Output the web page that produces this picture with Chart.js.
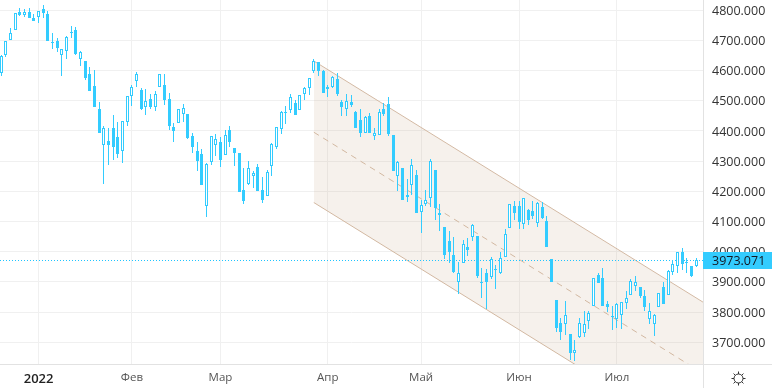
<!DOCTYPE html>
<html>
<head>
<meta charset="utf-8">
<script src="https://cdn.jsdelivr.net/npm/chart.js@4"></script>
<style>
  html, body { margin: 0; padding: 0; background: #fff; overflow: hidden; }
  canvas { display: block; }
</style>
</head>
<body>
<canvas id="priceChart" width="772" height="388"></canvas>
<script>
const opens = [4593,4651,4703,4733,4793,4785,4793,4775,4777,4804,4788,4694,4697,4653,4666,4728,4734,4637,4632,4589,
  4549,4473,4355,4367,4410,4380,4335,4431,4517,4564,4536,4481,4506,4478,4545,4553,4505,4412,4428,4455,
  4456,4384,4334,4324,4153,4296,4352,4363,4322,4403,4344,4327,4205,4223,4252,4281,4205,4186,4285,4346,
  4405,4463,4468,4492,4468,4522,4542,4600,4627,4599,4538,4547,4572,4496,4474,4496,4463,4437,4392,4450,
  4385,4388,4472,4489,4387,4252,4278,4188,4222,4253,4130,4159,4179,4271,4129,4082,4036,3989,3901,3964,
  4014,4050,4052,3900,3930,3917,3943,3928,3984,4077,4152,4152,4093,4138,4135,4095,4148,4102,3975,3840,
  3764,3762,3728,3666,3717,3732,3772,3821,3923,3913,3827,3787,3778,3792,3831,3858,3888,3883,3854,3777,
  3762,3818,3883,3858,3933,3954,3998,3965,3953,3952];
const closes = [4649,4697,4724,4790,4785,4793,4776,4765,4797,4792,4699,4692,4675,4670,4713,4726,4656,4661,4576,4531,
  4481,4395,4409,4355,4348,4325,4432,4515,4545,4588,4474,4498,4480,4522,4589,4503,4418,4400,4472,4475,
  4378,4348,4302,4221,4290,4382,4374,4305,4386,4362,4328,4199,4169,4276,4260,4202,4173,4263,4356,4412,
  4462,4461,4512,4454,4518,4542,4575,4632,4600,4527,4545,4580,4523,4481,4498,4487,4410,4395,4445,4392,
  4392,4462,4457,4391,4269,4296,4173,4182,4286,4129,4154,4173,4300,4146,4122,3990,4000,3934,3930,4025,
  4007,4088,3920,3897,3900,3976,3941,3979,4059,4158,4129,4099,4178,4105,4119,4162,4112,4016,3901,3747,
  3735,3789,3665,3674,3763,3760,3796,3912,3897,3820,3817,3785,3827,3833,3846,3903,3900,3854,3817,3804,
  3791,3863,3827,3936,3960,3998,3960,3963,3920,3972];
const highs = [4652,4699,4740,4790,4807,4803,4807,4788,4798,4818,4798,4725,4707,4671,4715,4748,4744,4665,4632,4612,
  4602,4496,4416,4410,4452,4430,4432,4516,4553,4596,4542,4539,4523,4533,4589,4589,4525,4426,4472,4490,
  4456,4392,4363,4341,4293,4385,4390,4379,4403,4417,4345,4327,4278,4301,4268,4291,4249,4271,4359,4412,
  4466,4483,4523,4503,4518,4546,4575,4638,4627,4602,4553,4582,4591,4503,4523,4519,4465,4473,4451,4459,
  4410,4472,4492,4513,4387,4300,4278,4241,4307,4271,4172,4203,4307,4271,4158,4082,4069,4048,3966,4039,
  4046,4092,4052,3946,3943,3983,3956,4000,4076,4158,4168,4168,4178,4142,4168,4165,4165,4119,3976,3840,
  3781,3837,3728,3708,3781,3804,3804,3912,3930,3946,3837,3820,3830,3833,3870,3910,3920,3883,3873,3830,
  3794,3863,3900,3940,3973,3998,4013,3978,3953,3979];
const lows = [4582,4646,4702,4733,4781,4779,4775,4765,4759,4775,4699,4672,4662,4582,4639,4709,4652,4616,4569,4531,
  4481,4395,4225,4288,4304,4310,4294,4415,4483,4545,4470,4453,4474,4466,4545,4486,4403,4365,4428,4431,
  4374,4328,4269,4221,4116,4288,4317,4282,4321,4348,4285,4199,4158,4221,4211,4201,4163,4186,4251,4339,
  4391,4423,4459,4453,4468,4503,4519,4591,4582,4527,4511,4542,4517,4451,4451,4479,4410,4381,4392,4392,
  4371,4388,4451,4385,4269,4202,4173,4166,4188,4127,4063,4150,4147,4105,4069,3976,3961,3931,3860,3964,
  3986,4037,3913,3847,3810,3910,3877,3926,3983,4077,4105,4076,4076,4089,4109,4082,4109,4016,3900,3734,
  3708,3724,3641,3638,3715,3718,3744,3821,3896,3820,3800,3741,3747,3744,3810,3857,3870,3847,3804,3761,
  3721,3818,3827,3858,3923,3930,3940,3929,3915,3951];

// month starts, as candle index
const monthTicks = [8, 28, 47, 70, 90, 111, 132];
const monthLabels = ['2022', 'Фев', 'Мар', 'Апр', 'Май', 'Июн', 'Июл'];
const priceTicks = [3700, 3800, 3900, 4000, 4100, 4200, 4300, 4400, 4500, 4600, 4700, 4800];
const lastPrice = 3973.071;

// channel drawn over the candles: start and end candle, then price at both ends
const channelX = [67, 150.45];
const channelTop = [4632, 3833];
const channelMid = [4396, 3597];
const channelBottom = [4163, 3364];

const xMin = -0.279;
const xMax = 150.45;
const candleColor = '#33ccff';
const channelColor = '#d3b9a3';
const gridColor = '#f0f0f0';
const axisLineColor = '#e2e2e2';

function channelPoints(prices) {
    return prices.map(function (p, i) { return { x: channelX[i], y: p }; });
}

function noScalePadding(scale) {
    scale.paddingTop = 0;
    scale.paddingBottom = 0;
    scale.paddingLeft = 0;
    scale.paddingRight = 0;
}

// Snap bars and the price line to whole pixels so they stay sharp
const snapMarks = {
    id: 'snapMarks',
    afterDatasetsUpdate(chart) {
        chart.getSortedVisibleDatasetMetas().forEach(function (meta) {
            if (meta.type === 'bar') {
                meta.data.forEach(function (bar) {
                    bar.x = Math.floor(bar.x) + 0.5;
                    bar.y = Math.round(bar.y);
                    bar.base = Math.round(bar.base);
                    if (bar.y === bar.base) bar.base = bar.y + 1;
                });
            } else if (meta.label === 'Last price') {
                meta.data.forEach(function (pt) { pt.y = Math.round(pt.y) + 0.5; });
            }
        });
    }
};

// Price label and settings icon in the right axis
const axisExtras = {
    id: 'axisExtras',
    afterDraw(chart) {
        const ctx = chart.ctx;
        const area = chart.chartArea;
        const y = Math.round(chart.scales.y.getPixelForValue(lastPrice));
        ctx.save();
        ctx.strokeStyle = axisLineColor;
        ctx.lineWidth = 1;
        ctx.beginPath();
        ctx.moveTo(area.right, area.bottom + 0.5);
        ctx.lineTo(772, area.bottom + 0.5);
        ctx.moveTo(area.right + 0.5, area.bottom);
        ctx.lineTo(area.right + 0.5, 388);
        ctx.stroke();

        ctx.fillStyle = candleColor;
        ctx.fillRect(area.right, y - 8, 69, 17);
        ctx.fillStyle = '#131722';
        ctx.font = '12.5px "Open Sans"';
        ctx.textBaseline = 'middle';
        ctx.fillText(lastPrice.toFixed(3), 712, y + 1);

        // gear
        const cx = 738.5, cy = 378.5;
        ctx.strokeStyle = '#333';
        ctx.beginPath();
        ctx.arc(cx, cy, 4.5, 0, Math.PI * 2);
        for (let a = 0; a < 8; a++) {
            const t = a * Math.PI / 4;
            ctx.moveTo(cx + Math.cos(t) * 4.5, cy + Math.sin(t) * 4.5);
            ctx.lineTo(cx + Math.cos(t) * 7, cy + Math.sin(t) * 7);
        }
        ctx.stroke();
        ctx.restore();
    }
};

const candleIndex = opens.map(function (o, i) { return i; });

new Chart(document.getElementById('priceChart').getContext('2d'), {
    type: 'bar',
    data: {
        datasets: [{
            label: 'Bodies',
            order: 1,
            data: candleIndex.map(function (i) { return { x: i, y: [opens[i], closes[i]] }; }),
            barThickness: 3,
            grouped: false,
            inflateAmount: 0,
            borderSkipped: false,
            borderWidth: 1,
            borderColor: candleColor,
            backgroundColor: candleIndex.map(function (i) { return closes[i] >= opens[i] ? '#ffffff' : candleColor; })
        }, {
            label: 'Wicks',
            order: 2,
            data: candleIndex.map(function (i) { return { x: i, y: [lows[i], highs[i]] }; }),
            barThickness: 1,
            grouped: false,
            inflateAmount: 0,
            borderWidth: 0,
            backgroundColor: candleColor
        }, {
            type: 'line',
            label: 'Last price',
            order: 3,
            data: [{ x: xMin, y: lastPrice }, { x: xMax, y: lastPrice }],
            borderColor: '#1fc4ff',
            borderWidth: 1,
            borderDash: [1, 2],
            pointRadius: 0
        }, {
            type: 'line',
            label: 'Channel top',
            order: 4,
            data: channelPoints(channelTop),
            borderColor: channelColor,
            borderWidth: 1,
            pointRadius: 0,
            fill: { target: 5 },
            backgroundColor: 'rgba(205, 175, 150, 0.18)'
        }, {
            type: 'line',
            label: 'Channel middle',
            order: 4,
            data: channelPoints(channelMid),
            borderColor: channelColor,
            borderWidth: 1,
            borderDash: [6, 5],
            pointRadius: 0
        }, {
            type: 'line',
            label: 'Channel bottom',
            order: 4,
            data: channelPoints(channelBottom),
            borderColor: channelColor,
            borderWidth: 1,
            pointRadius: 0
        }]
    },
    options: {
        responsive: false,
        animation: false,
        events: [],
        layout: { padding: 0 },
        plugins: {
            legend: { display: false },
            tooltip: { enabled: false }
        },
        scales: {
            x: {
                type: 'linear',
                min: xMin,
                max: xMax,
                offset: false,
                afterBuildTicks(scale) {
                    scale.ticks = monthTicks.map(function (v) { return { value: v }; });
                },
                afterFit(scale) {
                    scale.height = 24;
                    noScalePadding(scale);
                },
                grid: { color: gridColor, drawTicks: false, offset: false },
                border: { color: axisLineColor },
                ticks: {
                    autoSkip: false,
                    maxRotation: 0,
                    padding: 7,
                    color: function (ctx) { return ctx.index === 0 ? '#222222' : '#555555'; },
                    font: function (ctx) {
                        return ctx.index === 0
                            ? { family: 'Open Sans', size: 13, weight: '600' }
                            : { family: 'Open Sans', size: 11.5 };
                    },
                    callback: function (v) { return monthLabels[monthTicks.indexOf(v)]; }
                }
            },
            y: {
                position: 'right',
                min: 3628,
                max: 4834,
                afterBuildTicks(scale) {
                    scale.ticks = priceTicks.map(function (v) { return { value: v }; });
                },
                afterFit(scale) {
                    scale.width = 69;
                    noScalePadding(scale);
                },
                grid: { color: gridColor, drawTicks: false },
                border: { color: axisLineColor },
                ticks: {
                    autoSkip: false,
                    padding: 9,
                    labelOffset: 1,
                    color: '#333333',
                    font: { family: 'Open Sans', size: 12.5 },
                    callback: function (v) { return v.toFixed(3); }
                }
            }
        }
    },
    plugins: [snapMarks, axisExtras]
});
</script>
</body>
</html>
